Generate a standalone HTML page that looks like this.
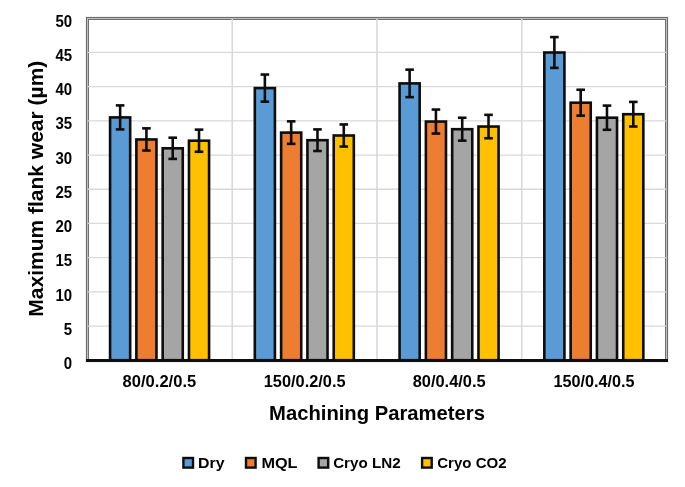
<!DOCTYPE html><html><head><meta charset="utf-8"><style>html,body{margin:0;padding:0;background:#fff;}svg{display:block;will-change:transform;}text{font-family:"Liberation Sans",sans-serif;font-weight:bold;fill:#000;}</style></head><body>
<svg width="685" height="487" viewBox="0 0 685 487">
<rect x="85.5" y="16.5" width="583" height="346" fill="none" stroke="#f0f0f0" stroke-width="1"/>
<rect x="86.5" y="17.5" width="581" height="344" fill="#fff" stroke="#6e6e6e" stroke-width="1"/>
<rect x="87.5" y="18.5" width="579" height="342" fill="none" stroke="#bfbfbf" stroke-width="1"/>
<rect x="88.5" y="19.5" width="577" height="340" fill="none" stroke="#6e6e6e" stroke-width="1"/>
<line x1="88" x2="666" y1="326.13" y2="326.13" stroke="#d9d9d9" stroke-width="1.3"/>
<line x1="88" x2="666" y1="291.91" y2="291.91" stroke="#d9d9d9" stroke-width="1.3"/>
<line x1="88" x2="666" y1="257.69" y2="257.69" stroke="#d9d9d9" stroke-width="1.3"/>
<line x1="88" x2="666" y1="223.47" y2="223.47" stroke="#d9d9d9" stroke-width="1.3"/>
<line x1="88" x2="666" y1="189.25" y2="189.25" stroke="#d9d9d9" stroke-width="1.3"/>
<line x1="88" x2="666" y1="155.03" y2="155.03" stroke="#d9d9d9" stroke-width="1.3"/>
<line x1="88" x2="666" y1="120.81" y2="120.81" stroke="#d9d9d9" stroke-width="1.3"/>
<line x1="88" x2="666" y1="86.59" y2="86.59" stroke="#d9d9d9" stroke-width="1.3"/>
<line x1="88" x2="666" y1="52.37" y2="52.37" stroke="#d9d9d9" stroke-width="1.3"/>
<line x1="232.25" x2="232.25" y1="19" y2="359" stroke="#d9d9d9" stroke-width="1.6"/>
<line x1="377.00" x2="377.00" y1="19" y2="359" stroke="#d9d9d9" stroke-width="1.6"/>
<line x1="521.75" x2="521.75" y1="19" y2="359" stroke="#d9d9d9" stroke-width="1.6"/>
<rect x="110.07" y="117.40" width="20.10" height="242.80" fill="#5B9BD5" stroke="#0d0d0d" stroke-width="2.6"/>
<rect x="136.37" y="139.45" width="20.10" height="220.75" fill="#ED7D31" stroke="#0d0d0d" stroke-width="2.6"/>
<rect x="162.67" y="148.30" width="20.10" height="211.90" fill="#A5A5A5" stroke="#0d0d0d" stroke-width="2.6"/>
<rect x="188.97" y="140.70" width="20.10" height="219.50" fill="#FFC000" stroke="#0d0d0d" stroke-width="2.6"/>
<rect x="254.82" y="88.10" width="20.10" height="272.10" fill="#5B9BD5" stroke="#0d0d0d" stroke-width="2.6"/>
<rect x="281.12" y="132.60" width="20.10" height="227.60" fill="#ED7D31" stroke="#0d0d0d" stroke-width="2.6"/>
<rect x="307.42" y="140.20" width="20.10" height="220.00" fill="#A5A5A5" stroke="#0d0d0d" stroke-width="2.6"/>
<rect x="333.72" y="135.50" width="20.10" height="224.70" fill="#FFC000" stroke="#0d0d0d" stroke-width="2.6"/>
<rect x="399.57" y="83.40" width="20.10" height="276.80" fill="#5B9BD5" stroke="#0d0d0d" stroke-width="2.6"/>
<rect x="425.88" y="121.55" width="20.10" height="238.65" fill="#ED7D31" stroke="#0d0d0d" stroke-width="2.6"/>
<rect x="452.17" y="129.20" width="20.10" height="231.00" fill="#A5A5A5" stroke="#0d0d0d" stroke-width="2.6"/>
<rect x="478.47" y="126.55" width="20.10" height="233.65" fill="#FFC000" stroke="#0d0d0d" stroke-width="2.6"/>
<rect x="544.33" y="52.50" width="20.10" height="307.70" fill="#5B9BD5" stroke="#0d0d0d" stroke-width="2.6"/>
<rect x="570.63" y="102.70" width="20.10" height="257.50" fill="#ED7D31" stroke="#0d0d0d" stroke-width="2.6"/>
<rect x="596.93" y="117.70" width="20.10" height="242.50" fill="#A5A5A5" stroke="#0d0d0d" stroke-width="2.6"/>
<rect x="623.23" y="114.20" width="20.10" height="246.00" fill="#FFC000" stroke="#0d0d0d" stroke-width="2.6"/>
<line x1="120.12" x2="120.12" y1="105.40" y2="129.40" stroke="#0d0d0d" stroke-width="2.6"/>
<line x1="115.82" x2="124.42" y1="105.40" y2="105.40" stroke="#0d0d0d" stroke-width="2.6"/>
<line x1="115.82" x2="124.42" y1="129.40" y2="129.40" stroke="#0d0d0d" stroke-width="2.6"/>
<line x1="146.42" x2="146.42" y1="128.35" y2="150.55" stroke="#0d0d0d" stroke-width="2.6"/>
<line x1="142.12" x2="150.72" y1="128.35" y2="128.35" stroke="#0d0d0d" stroke-width="2.6"/>
<line x1="142.12" x2="150.72" y1="150.55" y2="150.55" stroke="#0d0d0d" stroke-width="2.6"/>
<line x1="172.72" x2="172.72" y1="137.70" y2="158.90" stroke="#0d0d0d" stroke-width="2.6"/>
<line x1="168.42" x2="177.03" y1="137.70" y2="137.70" stroke="#0d0d0d" stroke-width="2.6"/>
<line x1="168.42" x2="177.03" y1="158.90" y2="158.90" stroke="#0d0d0d" stroke-width="2.6"/>
<line x1="199.02" x2="199.02" y1="129.65" y2="151.75" stroke="#0d0d0d" stroke-width="2.6"/>
<line x1="194.72" x2="203.32" y1="129.65" y2="129.65" stroke="#0d0d0d" stroke-width="2.6"/>
<line x1="194.72" x2="203.32" y1="151.75" y2="151.75" stroke="#0d0d0d" stroke-width="2.6"/>
<line x1="264.88" x2="264.88" y1="74.55" y2="101.65" stroke="#0d0d0d" stroke-width="2.6"/>
<line x1="260.57" x2="269.18" y1="74.55" y2="74.55" stroke="#0d0d0d" stroke-width="2.6"/>
<line x1="260.57" x2="269.18" y1="101.65" y2="101.65" stroke="#0d0d0d" stroke-width="2.6"/>
<line x1="291.18" x2="291.18" y1="121.35" y2="143.85" stroke="#0d0d0d" stroke-width="2.6"/>
<line x1="286.88" x2="295.48" y1="121.35" y2="121.35" stroke="#0d0d0d" stroke-width="2.6"/>
<line x1="286.88" x2="295.48" y1="143.85" y2="143.85" stroke="#0d0d0d" stroke-width="2.6"/>
<line x1="317.47" x2="317.47" y1="129.40" y2="151.00" stroke="#0d0d0d" stroke-width="2.6"/>
<line x1="313.17" x2="321.77" y1="129.40" y2="129.40" stroke="#0d0d0d" stroke-width="2.6"/>
<line x1="313.17" x2="321.77" y1="151.00" y2="151.00" stroke="#0d0d0d" stroke-width="2.6"/>
<line x1="343.77" x2="343.77" y1="124.45" y2="146.55" stroke="#0d0d0d" stroke-width="2.6"/>
<line x1="339.47" x2="348.07" y1="124.45" y2="124.45" stroke="#0d0d0d" stroke-width="2.6"/>
<line x1="339.47" x2="348.07" y1="146.55" y2="146.55" stroke="#0d0d0d" stroke-width="2.6"/>
<line x1="409.62" x2="409.62" y1="69.65" y2="97.15" stroke="#0d0d0d" stroke-width="2.6"/>
<line x1="405.32" x2="413.93" y1="69.65" y2="69.65" stroke="#0d0d0d" stroke-width="2.6"/>
<line x1="405.32" x2="413.93" y1="97.15" y2="97.15" stroke="#0d0d0d" stroke-width="2.6"/>
<line x1="435.93" x2="435.93" y1="109.55" y2="133.55" stroke="#0d0d0d" stroke-width="2.6"/>
<line x1="431.62" x2="440.23" y1="109.55" y2="109.55" stroke="#0d0d0d" stroke-width="2.6"/>
<line x1="431.62" x2="440.23" y1="133.55" y2="133.55" stroke="#0d0d0d" stroke-width="2.6"/>
<line x1="462.22" x2="462.22" y1="117.75" y2="140.65" stroke="#0d0d0d" stroke-width="2.6"/>
<line x1="457.92" x2="466.52" y1="117.75" y2="117.75" stroke="#0d0d0d" stroke-width="2.6"/>
<line x1="457.92" x2="466.52" y1="140.65" y2="140.65" stroke="#0d0d0d" stroke-width="2.6"/>
<line x1="488.52" x2="488.52" y1="114.85" y2="138.25" stroke="#0d0d0d" stroke-width="2.6"/>
<line x1="484.22" x2="492.82" y1="114.85" y2="114.85" stroke="#0d0d0d" stroke-width="2.6"/>
<line x1="484.22" x2="492.82" y1="138.25" y2="138.25" stroke="#0d0d0d" stroke-width="2.6"/>
<line x1="554.38" x2="554.38" y1="37.10" y2="67.90" stroke="#0d0d0d" stroke-width="2.6"/>
<line x1="550.08" x2="558.67" y1="37.10" y2="37.10" stroke="#0d0d0d" stroke-width="2.6"/>
<line x1="550.08" x2="558.67" y1="67.90" y2="67.90" stroke="#0d0d0d" stroke-width="2.6"/>
<line x1="580.68" x2="580.68" y1="89.75" y2="115.65" stroke="#0d0d0d" stroke-width="2.6"/>
<line x1="576.38" x2="584.98" y1="89.75" y2="89.75" stroke="#0d0d0d" stroke-width="2.6"/>
<line x1="576.38" x2="584.98" y1="115.65" y2="115.65" stroke="#0d0d0d" stroke-width="2.6"/>
<line x1="606.98" x2="606.98" y1="105.60" y2="129.80" stroke="#0d0d0d" stroke-width="2.6"/>
<line x1="602.68" x2="611.27" y1="105.60" y2="105.60" stroke="#0d0d0d" stroke-width="2.6"/>
<line x1="602.68" x2="611.27" y1="129.80" y2="129.80" stroke="#0d0d0d" stroke-width="2.6"/>
<line x1="633.28" x2="633.28" y1="101.90" y2="126.50" stroke="#0d0d0d" stroke-width="2.6"/>
<line x1="628.98" x2="637.58" y1="101.90" y2="101.90" stroke="#0d0d0d" stroke-width="2.6"/>
<line x1="628.98" x2="637.58" y1="126.50" y2="126.50" stroke="#0d0d0d" stroke-width="2.6"/>
<line x1="86" x2="668" y1="360.5" y2="360.5" stroke="#0d0d0d" stroke-width="3"/>
<text x="72.2" y="369.00" font-size="15.9" text-anchor="end" textLength="8.34" lengthAdjust="spacingAndGlyphs">0</text>
<text x="72.2" y="334.78" font-size="15.9" text-anchor="end" textLength="8.34" lengthAdjust="spacingAndGlyphs">5</text>
<text x="72.2" y="300.56" font-size="15.9" text-anchor="end" textLength="16.69" lengthAdjust="spacingAndGlyphs">10</text>
<text x="72.2" y="266.34" font-size="15.9" text-anchor="end" textLength="16.69" lengthAdjust="spacingAndGlyphs">15</text>
<text x="72.2" y="232.12" font-size="15.9" text-anchor="end" textLength="16.69" lengthAdjust="spacingAndGlyphs">20</text>
<text x="72.2" y="197.90" font-size="15.9" text-anchor="end" textLength="16.69" lengthAdjust="spacingAndGlyphs">25</text>
<text x="72.2" y="163.68" font-size="15.9" text-anchor="end" textLength="16.69" lengthAdjust="spacingAndGlyphs">30</text>
<text x="72.2" y="129.46" font-size="15.9" text-anchor="end" textLength="16.69" lengthAdjust="spacingAndGlyphs">35</text>
<text x="72.2" y="95.24" font-size="15.9" text-anchor="end" textLength="16.69" lengthAdjust="spacingAndGlyphs">40</text>
<text x="72.2" y="61.02" font-size="15.9" text-anchor="end" textLength="16.69" lengthAdjust="spacingAndGlyphs">45</text>
<text x="72.2" y="26.80" font-size="15.9" text-anchor="end" textLength="16.69" lengthAdjust="spacingAndGlyphs">50</text>
<text x="159.40" y="386.6" font-size="15.6" text-anchor="middle" textLength="73.60" lengthAdjust="spacingAndGlyphs">80/0.2/0.5</text>
<text x="304.65" y="386.6" font-size="15.6" text-anchor="middle" textLength="81.90" lengthAdjust="spacingAndGlyphs">150/0.2/0.5</text>
<text x="449.20" y="386.6" font-size="15.6" text-anchor="middle" textLength="73.00" lengthAdjust="spacingAndGlyphs">80/0.4/0.5</text>
<text x="594.10" y="386.6" font-size="15.6" text-anchor="middle" textLength="81.00" lengthAdjust="spacingAndGlyphs">150/0.4/0.5</text>
<text x="377.00" y="419.8" font-size="20" text-anchor="middle" textLength="215.9" lengthAdjust="spacingAndGlyphs">Machining Parameters</text>
<text transform="translate(42.6,188.70) rotate(-90)" x="0" y="0" font-size="20.6" text-anchor="middle" textLength="256.0" lengthAdjust="spacingAndGlyphs">Maximum flank wear (µm)</text>
<rect x="183.40" y="458" width="9.6" height="9.6" fill="#5B9BD5" stroke="#0d0d0d" stroke-width="2.4"/>
<text x="211.30" y="468" font-size="15.5" text-anchor="middle" textLength="26.50" lengthAdjust="spacingAndGlyphs">Dry</text>
<rect x="246.00" y="458" width="9.6" height="9.6" fill="#ED7D31" stroke="#0d0d0d" stroke-width="2.4"/>
<text x="279.50" y="468" font-size="15.5" text-anchor="middle" textLength="36.10" lengthAdjust="spacingAndGlyphs">MQL</text>
<rect x="318.60" y="458" width="9.6" height="9.6" fill="#A5A5A5" stroke="#0d0d0d" stroke-width="2.4"/>
<text x="366.90" y="468" font-size="15.5" text-anchor="middle" textLength="67.50" lengthAdjust="spacingAndGlyphs">Cryo LN2</text>
<rect x="422.10" y="458" width="9.6" height="9.6" fill="#FFC000" stroke="#0d0d0d" stroke-width="2.4"/>
<text x="471.95" y="468" font-size="15.5" text-anchor="middle" textLength="69.40" lengthAdjust="spacingAndGlyphs">Cryo CO2</text>
</svg></body></html>
